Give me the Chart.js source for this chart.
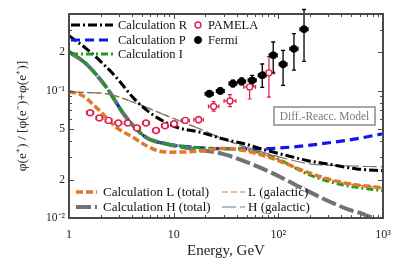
<!DOCTYPE html>
<html>
<head>
<meta charset="utf-8">
<script src="https://cdn.jsdelivr.net/npm/chart.js@4.4.1/dist/chart.umd.min.js"></script>
<style>
  html, body { margin: 0; padding: 0; background: #fff; }
  #wrap { width: 407px; height: 273px; }
</style>
</head>
<body>
<div id="wrap"><canvas id="myChart" width="407" height="273"></canvas></div>
<script>
// tick positions and labels
const xTicks = [1, 2, 3, 4, 5, 6, 7, 8, 9, 10, 20, 30, 40, 50, 60, 70, 80, 90, 100,
  200, 300, 400, 500, 600, 700, 800, 900, 1000];
const xTickLabels = { 1: '1', 10: '10', 100: '10²', 1000: '10³' };
const yTicks = [0.01, 0.02, 0.03, 0.04, 0.05, 0.06, 0.07, 0.08, 0.09, 0.1, 0.2, 0.3, 0.4];
const yTickLabels = { 0.01: '10⁻²', 0.02: '2', 0.05: '5', 0.1: '10⁻¹', 0.2: '2' };

// model curves (energy in GeV, positron fraction)
const energyR = [1, 1.45, 2, 2.81, 4.06, 5.44, 7.29, 10.5, 17.6, 29.4, 50, 77.8, 120, 187, 300, 562, 1000];
const calcR = [0.27, 0.215, 0.17, 0.128, 0.089, 0.071, 0.060, 0.0518, 0.0473, 0.0419, 0.0378, 0.0339, 0.031, 0.0283, 0.0265, 0.0243, 0.0235];

const energyP = [1, 1.45, 2.26, 3.5, 5.44, 8.4, 15, 30, 63, 131, 272, 567, 1000];
const calcP = [0.202, 0.163, 0.107, 0.062, 0.043, 0.0383, 0.036, 0.035, 0.0349, 0.036, 0.0385, 0.042, 0.0459];

const energyI = [1, 1.45, 2.26, 3.5, 5.44, 8.4, 15, 29.4, 47, 90.8, 189, 395, 1000];
const calcI = [0.202, 0.163, 0.107, 0.062, 0.043, 0.0383, 0.036, 0.035, 0.0345, 0.030, 0.0222, 0.0183, 0.0164];

const energyLtot = [1, 1.3, 1.95, 2.81, 4.06, 5.44, 7.29, 9.76, 17.6, 29.4, 47, 90.8, 189, 395, 1000];
const calcLtot = [0.098, 0.093, 0.070, 0.0518, 0.0432, 0.0371, 0.0335, 0.0329, 0.0335, 0.0352, 0.0339, 0.0291, 0.0229, 0.0191, 0.0172];

const energyLgal = [1, 1.3, 2.26, 4.06, 8.4, 17.6, 29.4, 47, 90.8, 189, 395, 1000];
const calcLgal = [0.098, 0.097, 0.0947, 0.0815, 0.064, 0.0502, 0.0419, 0.036, 0.0295, 0.0229, 0.0191, 0.0172];

const energyHtot = [1, 1.45, 2.26, 3.5, 5.44, 8.4, 15, 29.4, 47, 90.8, 163, 272, 450, 656, 1000];
const calcHtot = [0.202, 0.163, 0.107, 0.062, 0.043, 0.0383, 0.035, 0.0319, 0.028, 0.0222, 0.0174, 0.0141, 0.0118, 0.0107, 0.0092];

const energyHgal = [1, 1.3, 2.26, 4.06, 8.4, 17.6, 29.4, 47, 90.8, 200, 395, 1000];
const calcHgal = [0.098, 0.097, 0.0947, 0.0815, 0.064, 0.0502, 0.0419, 0.0365, 0.031, 0.0266, 0.0258, 0.0252];

// PAMELA data
const pamelaE = [1.59, 1.95, 2.39, 2.96, 3.64, 4.46, 5.44, 6.78, 8.26, 10.1, 12.9, 17.3, 24.1, 34.5, 53.2, 81.3];
const pamelaELo = [1.47, 1.81, 2.21, 2.74, 3.37, 4.13, 5.04, 6.28, 7.65, 9.35, 11.8, 15.6, 21.5, 30.3, 46.7, 72.6];
const pamelaEHi = [1.72, 2.11, 2.58, 3.20, 3.93, 4.82, 5.88, 7.32, 8.92, 10.9, 14.1, 19.2, 27.0, 39.3, 60.6, 91.0];
const pamelaV = [0.0671, 0.061, 0.0584, 0.0557, 0.0557, 0.0509, 0.0557, 0.0487, 0.053, 0.055, 0.0584, 0.0591, 0.0752, 0.083, 0.107, 0.138];
const pamelaVLo = [0.0648, 0.0588, 0.0563, 0.0537, 0.0537, 0.0491, 0.0537, 0.0470, 0.0511, 0.0530, 0.0560, 0.0562, 0.069, 0.075, 0.086, 0.089];
const pamelaVHi = [0.0696, 0.0633, 0.0606, 0.0578, 0.0578, 0.0528, 0.0578, 0.0505, 0.0549, 0.0570, 0.0609, 0.0622, 0.082, 0.093, 0.124, 0.185];

// Fermi data
const fermiE = [21.9, 27.9, 36.8, 44.6, 56.3, 70.2, 89.4, 111, 141, 176];
const fermiELo = [20.0, 25.6, 33.8, 40.9, 51.6, 64.4, 82.0, 102, 129, 161];
const fermiEHi = [23.9, 30.4, 40.1, 48.6, 61.4, 76.5, 97.5, 121, 154, 192];
const fermiV = [0.0947, 0.0995, 0.1136, 0.118, 0.1205, 0.132, 0.19, 0.161, 0.213, 0.304];
const fermiVLo = [0.090, 0.095, 0.107, 0.111, 0.110, 0.106, 0.138, 0.110, 0.145, 0.170];
const fermiVHi = [0.100, 0.105, 0.121, 0.126, 0.132, 0.162, 0.241, 0.207, 0.280, 0.434];

const SERIF = '"Liberation Serif", "Times New Roman", serif';

const toXY = (xs, ys) => xs.map((x, i) => ({ x: x, y: ys[i] }));

const curve = (label, xs, ys, color, width, dash, order) => ({
  label: label,
  data: toXY(xs, ys),
  showLine: true,
  borderColor: color,
  backgroundColor: color,
  borderWidth: width,
  borderDash: dash,
  pointRadius: 0,
  cubicInterpolationMode: 'monotone',
  order: order
});

const datasets = [
  curve('Calculation R', energyR, calcR, '#000000', 3, [9, 3, 2, 3], 2),
  curve('Calculation P', energyP, calcP, '#1414f0', 3.2, [9, 5], 9),
  curve('Calculation I', energyI, calcI, '#1e9a1e', 3, [7, 3, 2, 3], 6),
  curve('Calculation L (total)', energyLtot, calcLtot, '#e0782a', 3.5, [7, 3], 5),
  curve('Calculation H (total)', energyHtot, calcHtot, '#727272', 4, [15, 4], 7),
  curve('L (galactic)', energyLgal, calcLgal, '#e0782a', 1.2, [6, 3], 4),
  curve('H (galactic)', energyHgal, calcHgal, '#777777', 1.2, [14, 4], 3),
  {
    label: 'PAMELA',
    data: toXY(pamelaE, pamelaV),
    showLine: false,
    pointRadius: 3,
    pointBorderWidth: 1.4,
    borderColor: '#e0204a',
    pointBorderColor: '#e0204a',
    pointBackgroundColor: '#ffffff',
    order: 1
  },
  {
    label: 'Fermi',
    data: toXY(fermiE, fermiV),
    showLine: false,
    pointRadius: 3.5,
    pointBorderWidth: 1,
    borderColor: '#000000',
    pointBorderColor: '#000000',
    pointBackgroundColor: '#000000',
    order: 0
  }
];

// error bars, drawn under the markers
const errorBars = {
  id: 'errorBars',
  beforeDatasetsDraw(chart) {
    const { ctx, scales: { x, y } } = chart;
    const draw = (es, eLo, eHi, vs, vLo, vHi, color, w) => {
      ctx.save();
      ctx.strokeStyle = color;
      ctx.lineWidth = w;
      ctx.setLineDash([]);
      es.forEach((e, i) => {
        const px = x.getPixelForValue(e);
        const py = y.getPixelForValue(vs[i]);
        const x0 = x.getPixelForValue(eLo[i]);
        const x1 = x.getPixelForValue(eHi[i]);
        const y0 = y.getPixelForValue(vLo[i]);
        const y1 = y.getPixelForValue(vHi[i]);
        ctx.beginPath();
        ctx.moveTo(x0, py); ctx.lineTo(x1, py);
        ctx.moveTo(x0, py - 2); ctx.lineTo(x0, py + 2);
        ctx.moveTo(x1, py - 2); ctx.lineTo(x1, py + 2);
        ctx.moveTo(px, y0); ctx.lineTo(px, y1);
        ctx.moveTo(px - 2, y0); ctx.lineTo(px + 2, y0);
        ctx.moveTo(px - 2, y1); ctx.lineTo(px + 2, y1);
        ctx.stroke();
      });
      ctx.restore();
    };
    draw(pamelaE, pamelaELo, pamelaEHi, pamelaV, pamelaVLo, pamelaVHi, '#e0204a', 1.2);
    draw(fermiE, fermiELo, fermiEHi, fermiV, fermiVLo, fermiVHi, '#000000', 1.3);
  }
};

// frame with inward ticks on all four sides
const frameTicks = {
  id: 'frameTicks',
  afterDraw(chart) {
    const { ctx, chartArea: a, scales: { x, y } } = chart;
    ctx.save();
    ctx.strokeStyle = '#4a4a4a';
    ctx.lineWidth = 1;
    ctx.setLineDash([]);
    ctx.beginPath();
    x.ticks.forEach(t => {
      const px = Math.round(x.getPixelForValue(t.value)) + 0.5;
      const len = xTickLabels[t.value] ? 5 : 3;
      ctx.moveTo(px, a.bottom); ctx.lineTo(px, a.bottom - len);
      ctx.moveTo(px, a.top); ctx.lineTo(px, a.top + len);
    });
    y.ticks.forEach(t => {
      const py = Math.round(y.getPixelForValue(t.value)) + 0.5;
      const len = yTickLabels[t.value] ? 5 : 3;
      ctx.moveTo(a.left, py); ctx.lineTo(a.left + len, py);
      ctx.moveTo(a.right, py); ctx.lineTo(a.right - len, py);
    });
    ctx.stroke();
    ctx.lineWidth = 2;
    ctx.strokeRect(a.left, a.top, a.right - a.left, a.bottom - a.top);
    ctx.restore();
  }
};

// legend rows inside the plot, placed relative to the chart area
const legendRows = [
  { ds: 0, x0: 2, x1: 44, tx: 49, y: 11, from: 'top', size: 12.5 },
  { ds: 1, x0: 2, x1: 44, tx: 49, y: 26, from: 'top', size: 12.5 },
  { ds: 2, x0: 2, x1: 44, tx: 49, y: 40, from: 'top', size: 12.5 },
  { ds: 7, x0: 129, x1: 129, tx: 139, y: 11, from: 'top', size: 12.5 },
  { ds: 8, x0: 129, x1: 129, tx: 139, y: 26, from: 'top', size: 12.5 },
  { ds: 3, x0: 7, x1: 28, tx: 34, y: 26, from: 'bottom', size: 13 },
  { ds: 4, x0: 7, x1: 28, tx: 34, y: 11, from: 'bottom', size: 13 },
  { ds: 5, x0: 153, x1: 176, tx: 179, y: 26, from: 'bottom', size: 13 },
  { ds: 6, x0: 153, x1: 176, tx: 179, y: 11, from: 'bottom', size: 13 }
];

const insideLegend = {
  id: 'insideLegend',
  afterDatasetsDraw(chart) {
    const { ctx, chartArea: a } = chart;
    ctx.save();
    legendRows.forEach(r => {
      const ds = chart.data.datasets[r.ds];
      const yy = r.from === 'top' ? a.top + r.y : a.bottom - r.y;
      if (ds.showLine) {
        ctx.strokeStyle = ds.borderColor;
        ctx.lineWidth = ds.borderWidth;
        ctx.setLineDash(ds.borderDash || []);
        ctx.beginPath();
        ctx.moveTo(a.left + r.x0, yy);
        ctx.lineTo(a.left + r.x1, yy);
        ctx.stroke();
      } else {
        ctx.setLineDash([]);
        ctx.beginPath();
        ctx.arc(a.left + r.x0, yy, ds.pointRadius, 0, Math.PI * 2);
        ctx.fillStyle = ds.pointBackgroundColor;
        ctx.fill();
        ctx.lineWidth = ds.pointBorderWidth;
        ctx.strokeStyle = ds.pointBorderColor;
        ctx.stroke();
      }
      ctx.fillStyle = '#111';
      ctx.font = r.size + 'px ' + SERIF;
      ctx.textBaseline = 'middle';
      ctx.textAlign = 'left';
      ctx.fillText(ds.label, a.left + r.tx, yy + 1);
    });

    // model label box
    const bx = a.right - 109, by = a.top + 93, bw = 101, bh = 18;
    ctx.setLineDash([]);
    ctx.fillStyle = '#ffffff';
    ctx.fillRect(bx, by, bw, bh);
    ctx.strokeStyle = '#8a8a8a';
    ctx.lineWidth = 1.5;
    ctx.strokeRect(bx, by, bw, bh);
    ctx.fillStyle = '#7a7a7a';
    ctx.font = '11.5px ' + SERIF;
    ctx.textAlign = 'center';
    ctx.textBaseline = 'middle';
    ctx.fillText('Diff.-Reacc. Model', bx + bw / 2, by + bh / 2 + 1);
    ctx.restore();
  }
};

const config = {
  type: 'scatter',
  data: { datasets: datasets },
  options: {
    responsive: false,
    animation: false,
    events: [],
    layout: { padding: { left: 0, top: 14, right: 24, bottom: 0 } },
    plugins: {
      legend: { display: false },
      tooltip: { enabled: false }
    },
    scales: {
      x: {
        type: 'logarithmic',
        min: 1,
        max: 1000,
        afterBuildTicks: s => { s.ticks = xTicks.map(v => ({ value: v })); },
        afterFit: s => { s.height = 55; },
        grid: { display: false, drawTicks: false },
        border: { display: false },
        ticks: {
          autoSkip: false,
          maxRotation: 0,
          padding: 10,
          color: '#222',
          font: { family: SERIF, size: 12 },
          callback: v => xTickLabels[v] || ''
        },
        title: {
          display: true,
          text: 'Energy, GeV',
          color: '#222',
          font: { family: SERIF, size: 15 },
          padding: { top: 0, bottom: 13 }
        }
      },
      y: {
        type: 'logarithmic',
        min: 0.01,
        max: 0.4,
        afterBuildTicks: s => { s.ticks = yTicks.map(v => ({ value: v })); },
        afterFit: s => { s.width = 69; },
        grid: { display: false, drawTicks: false },
        border: { display: false },
        ticks: {
          autoSkip: false,
          padding: 4,
          color: '#222',
          font: { family: SERIF, size: 11.5 },
          callback: v => yTickLabels[v] || ''
        },
        title: {
          display: true,
          text: 'φ(e⁺) / [φ(e⁻)+φ(e⁺)]',
          color: '#222',
          font: { family: SERIF, size: 13.5 },
          padding: { top: 14, bottom: 0 }
        }
      }
    }
  },
  plugins: [errorBars, insideLegend, frameTicks]
};

var myChart = new Chart(document.getElementById('myChart'), config);
</script>
</body>
</html>
